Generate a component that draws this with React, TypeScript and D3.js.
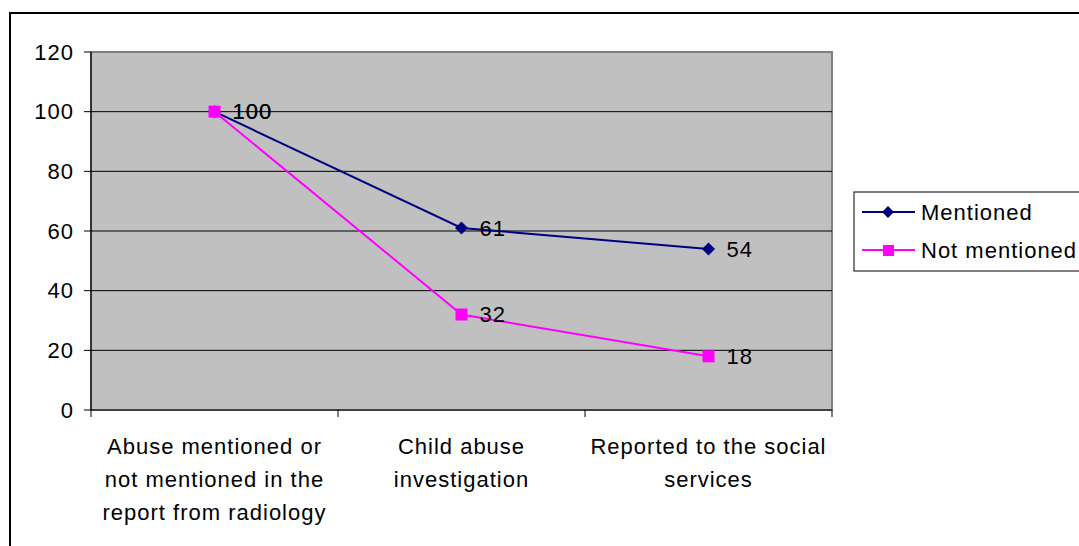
import React from "react";
import * as d3 from "d3";

const categories = [
  ["Abuse mentioned or", "not mentioned in the", "report from radiology"],
  ["Child abuse", "investigation"],
  ["Reported to the social", "services"],
];
const seriesNames = ["Mentioned", "Not mentioned"];
const mentioned = [100, 61, 54];
const notMentioned = [100, 32, 18];
const yTicks = [0, 20, 40, 60, 80, 100, 120];
const colors = ["#000080", "#FF00FF"];

const W = 1079;
const H = 546;
const plot = { left: 91, right: 832, top: 52, bottom: 410 };
const FONT = "'Liberation Sans', Arial, sans-serif";
const FS = 22;
const LS = 1;

export default function App() {
  const x = d3
    .scaleBand<number>()
    .domain([0, 1, 2])
    .range([plot.left, plot.right])
    .padding(0);
  const y = d3.scaleLinear().domain([0, 120]).range([plot.bottom, plot.top]);
  const cx = (i: number) => (x(i) as number) + x.bandwidth() / 2;
  const line = d3
    .line<number>()
    .x((_, i) => cx(i))
    .y((d) => y(d));
  const series = [mentioned, notMentioned];
  const boundaries = [0, 1, 2].map((i) => x(i) as number).concat([plot.right]);

  const diamond = (px: number, py: number, r: number) =>
    `M${px},${py - r}L${px + r},${py}L${px},${py + r}L${px - r},${py}Z`;

  return (
    <svg
      width={W}
      height={H}
      style={{ position: "absolute", left: 0, top: 0 }}
      fontFamily={FONT}
      letterSpacing={LS}
    >
      <rect x={0} y={0} width={W} height={H} fill="#fff" />
      <rect x={10} y={13} width={W + 20} height={H + 20} fill="none" stroke="#000" strokeWidth={2} />
      {/* plot area */}
      <rect
        x={plot.left}
        y={plot.top}
        width={plot.right - plot.left}
        height={plot.bottom - plot.top}
        fill="#C0C0C0"
        stroke="#808080"
        strokeWidth={2}
      />
      {yTicks.filter((t) => t > 0 && t < 120).map((t) => (
        <line key={t} x1={plot.left} x2={plot.right} y1={y(t)} y2={y(t)} stroke="#000" strokeWidth={1} />
      ))}
      {/* axes */}
      <line x1={plot.left} x2={plot.left} y1={plot.top} y2={plot.bottom} stroke="#000" strokeWidth={1.2} />
      <line x1={plot.left} x2={plot.right} y1={plot.bottom} y2={plot.bottom} stroke="#000" strokeWidth={1.2} />
      {yTicks.map((t) => (
        <g key={t}>
          <line x1={plot.left - 7} x2={plot.left} y1={y(t)} y2={y(t)} stroke="#000" />
          <text x={plot.left - 17} y={y(t)} dy="0.35em" textAnchor="end" fontSize={FS}>
            {t}
          </text>
        </g>
      ))}
      {boundaries.map((b, i) => (
        <line key={i} x1={b} x2={b} y1={plot.bottom} y2={plot.bottom + 7} stroke="#000" />
      ))}
      {categories.map((lines, i) => (
        <text key={i} x={cx(i)} y={446} textAnchor="middle" fontSize={FS} fill="#000">
          {lines.map((l, j) => (
            <tspan key={j} x={cx(i)} dy={j === 0 ? "0.35em" : 33}>
              {l}
            </tspan>
          ))}
        </text>
      ))}
      {/* lines */}
      {series.map((s, k) => (
        <path key={k} d={line(s) || ""} fill="none" stroke={colors[k]} strokeWidth={2} />
      ))}
      {/* markers */}
      {mentioned.map((v, i) => (
        <path key={"m" + i} d={diamond(cx(i), y(v), 6.5)} fill={colors[0]} />
      ))}
      {notMentioned.map((v, i) => (
        <rect key={"n" + i} x={cx(i) - 6} y={y(v) - 6} width={12} height={12} fill={colors[1]} />
      ))}
      {/* labels */}
      {series.map((s, k) =>
        s.map((v, i) => (
          <text key={k + "-" + i} x={cx(i) + 18} y={y(v)} dy="0.35em" fontSize={FS} fill="#000">
            {v}
          </text>
        ))
      )}
      {/* legend */}
      <rect x={854} y={192} width={240} height={79} fill="#fff" stroke="#000" strokeWidth={1} />
      {seriesNames.map((n, k) => {
        const ly = 212 + k * 38;
        return (
          <g key={n}>
            <line x1={862} x2={915} y1={ly} y2={ly} stroke={colors[k]} strokeWidth={2} />
            {k === 0 ? (
              <path d={diamond(888, ly, 6)} fill={colors[0]} />
            ) : (
              <rect x={883} y={ly - 5} width={11} height={11} fill={colors[1]} />
            )}
            <text x={921} y={ly} dy="0.35em" fontSize={FS} fill="#000">
              {n}
            </text>
          </g>
        );
      })}
    </svg>
  );
}
